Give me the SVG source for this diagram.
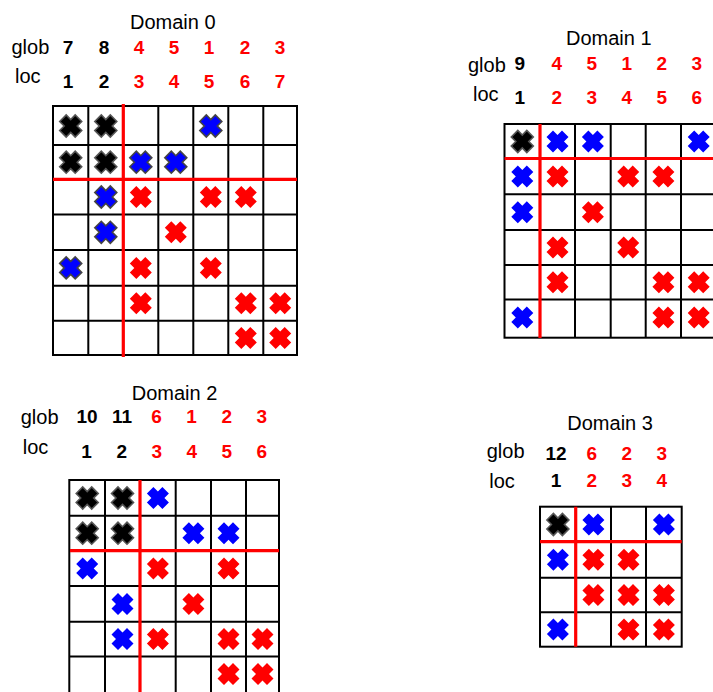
<svg xmlns="http://www.w3.org/2000/svg" xmlns:xlink="http://www.w3.org/1999/xlink" width="713" height="692" viewBox="0 0 713 692">
<style>
.lbl{font-family:"Liberation Sans",Arial,sans-serif;font-size:20px;fill:#000}
.num{font-family:"Liberation Sans",Arial,sans-serif;font-size:19px;font-weight:bold;text-anchor:middle}
.k{fill:#000}
.r{fill:#ff0000}
.grid{fill:#fff;stroke:#000;stroke-width:2}
.gl{fill:none;stroke:#000;stroke-width:2}
.rl{fill:none;stroke:#ff0000;stroke-width:3.2}
.xk{fill:#000;stroke:#555;stroke-width:1.6}
.xbo{fill:#0000ff;stroke:#444;stroke-width:1.6}
.xb{fill:#0000ff}
.xr{fill:#ff0000}
</style>
<defs>
<path id="x" d="M-11,-4.5 L-4.5,-11 L0,-6.5 L4.5,-11 L11,-4.5 L6.5,0 L11,4.5 L4.5,11 L0,6.5 L-4.5,11 L-11,4.5 L-6.5,0 Z"/>
</defs>
<rect width="713" height="692" fill="#fff"/>

<g id="domain0">
<text class="lbl" x="130" y="29">Domain 0</text>
<text class="lbl" x="11.5" y="54">glob</text>
<text class="lbl" x="15" y="82.5">loc</text>
<g class="num">
<text class="k" x="68" y="53.5">7</text><text class="k" x="104" y="53.5">8</text>
<text class="r" x="139" y="53.5">4</text><text class="r" x="174" y="53.5">5</text><text class="r" x="209" y="53.5">1</text><text class="r" x="245" y="53.5">2</text><text class="r" x="280" y="53.5">3</text>
<text class="k" x="68" y="87.5">1</text><text class="k" x="104" y="87.5">2</text>
<text class="r" x="139" y="87.5">3</text><text class="r" x="174" y="87.5">4</text><text class="r" x="209" y="87.5">5</text><text class="r" x="245" y="87.5">6</text><text class="r" x="280" y="87.5">7</text>
</g>
<rect class="grid" x="53" y="106" width="244" height="249"/>
<path class="gl" d="M88.3,106V355M158.3,106V355M193.3,106V355M228.3,106V355M263.3,106V355M53,145H297M53,214.5H297M53,250H297M53,285.7H297M53,320.7H297"/>
<path class="rl" d="M123.3,104V357M53,179.3H297"/>
<use href="#x" class="xk" x="70.7" y="126"/><use href="#x" class="xk" x="105.8" y="126"/><use href="#x" class="xbo" x="210.8" y="126"/>
<use href="#x" class="xk" x="70.7" y="162.2"/><use href="#x" class="xk" x="105.8" y="162.2"/><use href="#x" class="xbo" x="140.8" y="162.2"/><use href="#x" class="xbo" x="175.8" y="162.2"/>
<use href="#x" class="xbo" x="105.8" y="197"/><use href="#x" class="xr" x="140.8" y="197"/><use href="#x" class="xr" x="210.8" y="197"/><use href="#x" class="xr" x="245.8" y="197"/>
<use href="#x" class="xbo" x="105.8" y="232.3"/><use href="#x" class="xr" x="175.8" y="232.3"/>
<use href="#x" class="xbo" x="70.7" y="267.9"/><use href="#x" class="xr" x="140.8" y="267.9"/><use href="#x" class="xr" x="210.8" y="267.9"/>
<use href="#x" class="xr" x="140.8" y="303.2"/><use href="#x" class="xr" x="245.8" y="303.2"/><use href="#x" class="xr" x="280.2" y="303.2"/>
<use href="#x" class="xr" x="245.8" y="337.9"/><use href="#x" class="xr" x="280.2" y="337.9"/>
</g>

<g id="domain1">
<text class="lbl" x="566" y="45">Domain 1</text>
<text class="lbl" x="468" y="72">glob</text>
<text class="lbl" x="473" y="101">loc</text>
<g class="num">
<text class="k" x="519.7" y="70">9</text>
<text class="r" x="556.7" y="70">4</text><text class="r" x="591.7" y="70">5</text><text class="r" x="626.7" y="70">1</text><text class="r" x="661.7" y="70">2</text><text class="r" x="696.7" y="70">3</text>
<text class="k" x="519.7" y="104">1</text>
<text class="r" x="556.7" y="104">2</text><text class="r" x="591.7" y="104">3</text><text class="r" x="626.7" y="104">4</text><text class="r" x="661.7" y="104">5</text><text class="r" x="696.7" y="104">6</text>
</g>
<rect class="grid" x="504.5" y="124" width="212" height="213.7"/>
<path class="gl" d="M575,124V337.7M610.7,124V337.7M645.7,124V337.7M681,124V337.7M504.5,194.3H716.5M504.5,230H716.5M504.5,265H716.5M504.5,299.5H716.5"/>
<path class="rl" d="M540,124V338M504.5,158.5H716.5"/>
<use href="#x" class="xk" x="522.3" y="141.5"/><use href="#x" class="xb" x="557.5" y="141.5"/><use href="#x" class="xb" x="592.9" y="141.5"/><use href="#x" class="xb" x="698.7" y="141.5"/>
<use href="#x" class="xb" x="522.3" y="176.6"/><use href="#x" class="xr" x="557.5" y="176.6"/><use href="#x" class="xr" x="628.2" y="176.6"/><use href="#x" class="xr" x="663.4" y="176.6"/>
<use href="#x" class="xb" x="522.3" y="212.2"/><use href="#x" class="xr" x="592.9" y="212.2"/>
<use href="#x" class="xr" x="557.5" y="247.5"/><use href="#x" class="xr" x="628.2" y="247.5"/>
<use href="#x" class="xr" x="557.5" y="282.3"/><use href="#x" class="xr" x="663.4" y="282.3"/><use href="#x" class="xr" x="698.7" y="282.3"/>
<use href="#x" class="xb" x="522.3" y="317.5"/><use href="#x" class="xr" x="663.4" y="317.5"/><use href="#x" class="xr" x="698.7" y="317.5"/>
</g>

<g id="domain2">
<text class="lbl" x="131.7" y="400">Domain 2</text>
<text class="lbl" x="20.7" y="423.5">glob</text>
<text class="lbl" x="22.7" y="454">loc</text>
<g class="num">
<text class="k" x="87" y="423">10</text><text class="k" x="122" y="423">11</text>
<text class="r" x="156.5" y="423">6</text><text class="r" x="191.5" y="423">1</text><text class="r" x="226.7" y="423">2</text><text class="r" x="261.7" y="423">3</text>
<text class="k" x="86.5" y="458.3">1</text><text class="k" x="121.7" y="458.3">2</text>
<text class="r" x="156.7" y="458.3">3</text><text class="r" x="191.7" y="458.3">4</text><text class="r" x="226.7" y="458.3">5</text><text class="r" x="261.7" y="458.3">6</text>
</g>
<rect class="grid" x="69.3" y="480" width="209.7" height="215"/>
<path class="gl" d="M105,480V695M175.7,480V695M211,480V695M246,480V695M69.3,515.7H279M69.3,586H279M69.3,621.7H279M69.3,656.5H279"/>
<path class="rl" d="M140,480V695M70,550.7H279"/>
<use href="#x" class="xk" x="87.2" y="498"/><use href="#x" class="xk" x="122.5" y="498"/><use href="#x" class="xb" x="157.9" y="498"/>
<use href="#x" class="xk" x="87.2" y="533.2"/><use href="#x" class="xk" x="122.5" y="533.2"/><use href="#x" class="xb" x="193.4" y="533.2"/><use href="#x" class="xb" x="228.5" y="533.2"/>
<use href="#x" class="xb" x="87.2" y="568.4"/><use href="#x" class="xr" x="157.9" y="568.4"/><use href="#x" class="xr" x="228.5" y="568.4"/>
<use href="#x" class="xb" x="122.5" y="603.9"/><use href="#x" class="xr" x="193.4" y="603.9"/>
<use href="#x" class="xb" x="122.5" y="639.1"/><use href="#x" class="xr" x="157.9" y="639.1"/><use href="#x" class="xr" x="228.5" y="639.1"/><use href="#x" class="xr" x="262.5" y="639.1"/>
<use href="#x" class="xr" x="228.5" y="674"/><use href="#x" class="xr" x="262.5" y="674"/>
</g>

<g id="domain3">
<text class="lbl" x="567.3" y="430">Domain 3</text>
<text class="lbl" x="486.7" y="458.3">glob</text>
<text class="lbl" x="489.3" y="488">loc</text>
<g class="num">
<text class="k" x="556" y="460">12</text>
<text class="r" x="591.7" y="460">6</text><text class="r" x="626.7" y="460">2</text><text class="r" x="661.7" y="460">3</text>
<text class="k" x="556" y="487">1</text>
<text class="r" x="591.7" y="487">2</text><text class="r" x="626.7" y="487">3</text><text class="r" x="661.7" y="487">4</text>
</g>
<rect class="grid" x="540" y="506.7" width="141.7" height="140"/>
<path class="gl" d="M611,506.7V646.7M646,506.7V646.7M540,577.7H681.7M540,612.3H681.7"/>
<path class="rl" d="M575.7,506.7V646.7M540,541.7H681.7"/>
<use href="#x" class="xk" x="557.9" y="524.5"/><use href="#x" class="xb" x="593.4" y="524.5"/><use href="#x" class="xb" x="663.9" y="524.5"/>
<use href="#x" class="xb" x="557.9" y="559.7"/><use href="#x" class="xr" x="593.4" y="559.7"/><use href="#x" class="xr" x="628.5" y="559.7"/>
<use href="#x" class="xr" x="593.4" y="595"/><use href="#x" class="xr" x="628.5" y="595"/><use href="#x" class="xr" x="663.9" y="595"/>
<use href="#x" class="xb" x="557.9" y="629.5"/><use href="#x" class="xr" x="628.5" y="629.5"/><use href="#x" class="xr" x="663.9" y="629.5"/>
</g>
</svg>
